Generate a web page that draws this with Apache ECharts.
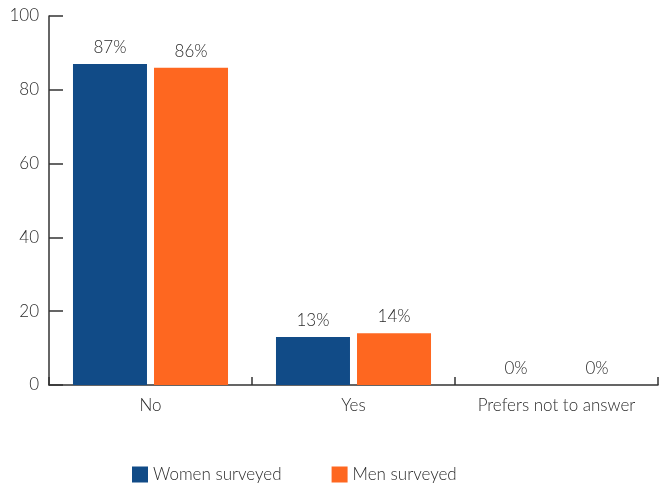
<!DOCTYPE html>
<html><head><meta charset="utf-8">
<script src="https://cdn.jsdelivr.net/npm/echarts@6/dist/echarts.min.js"></script>
<style>html,body{margin:0;padding:0;background:#fff}#c{width:663px;height:483px}</style>
</head><body><div id="c"></div>
<script>
const categories = ["No", "Yes", "Prefers not to answer"];
const women = [87, 13, 0];
const men = [86, 14, 0];
const seriesNames = ["Women surveyed", "Men surveyed"];
const yTicks = [0, 20, 40, 60, 80, 100];

const font = "Lato, 'Open Sans', sans-serif";
const txt = "#2b2b2b";
const fw = 300;
const fs = 17;
const chart = echarts.init(document.getElementById('c'), null, {renderer: 'canvas'});
const lbl = {show: true, position: 'top', distance: 8, formatter: p => p.value + '%', color: txt, fontSize: fs, fontWeight: fw, fontFamily: font};
chart.setOption({
  animation: false,
  textStyle: {fontFamily: font},
  grid: {left: 49, right: 5, top: 16, bottom: 98, containLabel: false},
  legend: {
    top: 461, left: 127, itemWidth: 16, itemHeight: 16, itemGap: 50,
    icon: 'rect',
    textStyle: {color: txt, fontSize: fs, fontWeight: fw, fontFamily: font},
    data: seriesNames
  },
  xAxis: {
    type: 'category', data: categories,
    axisLine: {lineStyle: {color: '#333', width: 1.5}},
    axisTick: {show: true, length: 8, inside: true, alignWithLabel: false, lineStyle: {color: '#333', width: 1.5}},
    axisLabel: {color: txt, fontSize: fs, fontWeight: fw, fontFamily: font, margin: 12, interval: 0, hideOverlap: false}
  },
  yAxis: {
    type: 'value', min: yTicks[0], max: yTicks[yTicks.length - 1], interval: 20,
    axisLine: {show: true, lineStyle: {color: '#333', width: 1.5}},
    axisTick: {show: true, inside: true, length: 14, lineStyle: {color: '#333', width: 1.5}},
    splitLine: {show: false},
    axisLabel: {color: txt, fontSize: fs, fontWeight: fw, fontFamily: font, margin: 10}
  },
  series: [
    {name: seriesNames[0], type: 'bar', data: women, barWidth: 74, barGap: '9.5%', itemStyle: {color: '#114b87'}, label: lbl},
    {name: seriesNames[1], type: 'bar', data: men, barWidth: 74, itemStyle: {color: '#fe6720'}, label: lbl}
  ]
});
</script></body></html>
